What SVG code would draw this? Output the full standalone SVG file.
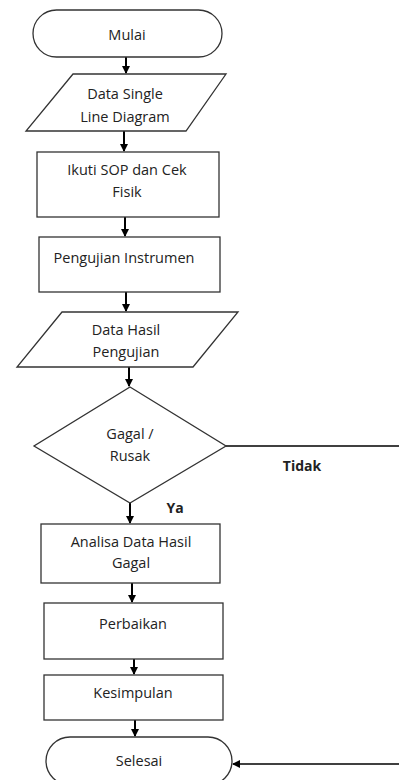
<svg xmlns="http://www.w3.org/2000/svg" width="399" height="780" viewBox="0 0 399 780">
<defs>
<marker id="ah" markerWidth="8" markerHeight="8" refX="7" refY="4" orient="auto" markerUnits="userSpaceOnUse">
<path d="M0,0 L8,4 L0,8 Z" fill="#000"/>
</marker>
<style>
.s{fill:#fff;stroke:#333;stroke-width:1.3}
.t{font-family:"Open Sans","Noto Sans",sans-serif;font-size:14.5px;fill:#222;text-anchor:middle}
.b{font-family:"Open Sans","Noto Sans",sans-serif;font-size:14px;font-weight:bold;fill:#222;text-anchor:middle}
.c{fill:none;stroke:#000;stroke-width:2}
.l{fill:none;stroke:#000;stroke-width:1.3}
</style>
</defs>
<rect width="399" height="780" fill="#fff"/>
<g id="connectors">
<line class="c" x1="126" y1="57" x2="126" y2="73" marker-end="url(#ah)"/>
<line class="c" x1="124" y1="131" x2="124" y2="151" marker-end="url(#ah)"/>
<line class="c" x1="125" y1="217" x2="125" y2="236" marker-end="url(#ah)"/>
<line class="c" x1="126" y1="292" x2="126" y2="311" marker-end="url(#ah)"/>
<line class="c" x1="129" y1="367" x2="129" y2="386" marker-end="url(#ah)"/>
<line class="c" x1="130" y1="503" x2="130" y2="523" marker-end="url(#ah)"/>
<line class="c" x1="132" y1="583" x2="132" y2="602" marker-end="url(#ah)"/>
<line class="c" x1="134" y1="659" x2="134" y2="674" marker-end="url(#ah)"/>
<line class="c" x1="135" y1="720" x2="135" y2="736" marker-end="url(#ah)"/>
<line class="l" x1="226" y1="446" x2="399" y2="446"/>
<line class="l" x1="399" y1="764" x2="233" y2="764" marker-end="url(#ah)"/>
<text class="b" x="302" y="471">Tidak</text>
<text class="b" x="175" y="513">Ya</text>
</g>
<g id="mulai">
<rect class="s" x="33" y="10" width="189" height="47" rx="23.5"/>
<text class="t" x="127" y="40">Mulai</text>
</g>
<g id="data-sld">
<path class="s" d="M73,74 L226,74 L186,131 L26,131 Z"/>
<text class="t" x="125" y="99">Data Single</text>
<text class="t" x="125" y="122">Line Diagram</text>
</g>
<g id="sop">
<rect class="s" x="37" y="152" width="182" height="65"/>
<text class="t" x="127" y="175">Ikuti SOP dan Cek</text>
<text class="t" x="127" y="197">Fisik</text>
</g>
<g id="pengujian">
<rect class="s" x="39" y="237" width="181" height="55"/>
<text class="t" x="124" y="263">Pengujian Instrumen</text>
</g>
<g id="data-hasil">
<path class="s" d="M62,312 L238,312 L193,367 L17,367 Z"/>
<text class="t" x="126" y="335">Data Hasil</text>
<text class="t" x="126" y="357">Pengujian</text>
</g>
<g id="gagal">
<path class="s" d="M130,387 L226,446 L130,503 L34,446 Z"/>
<text class="t" x="130" y="439">Gagal /</text>
<text class="t" x="130" y="461">Rusak</text>
</g>
<g id="analisa">
<rect class="s" x="41" y="524" width="179" height="59"/>
<text class="t" x="131" y="547">Analisa Data Hasil</text>
<text class="t" x="131" y="568">Gagal</text>
</g>
<g id="perbaikan">
<rect class="s" x="44" y="603" width="179" height="56"/>
<text class="t" x="133" y="629">Perbaikan</text>
</g>
<g id="kesimpulan">
<rect class="s" x="44" y="675" width="179" height="45"/>
<text class="t" x="133" y="698">Kesimpulan</text>
</g>
<g id="selesai">
<rect class="s" x="46" y="737" width="186" height="48" rx="24"/>
<text class="t" x="139" y="766">Selesai</text>
</g>
</svg>
